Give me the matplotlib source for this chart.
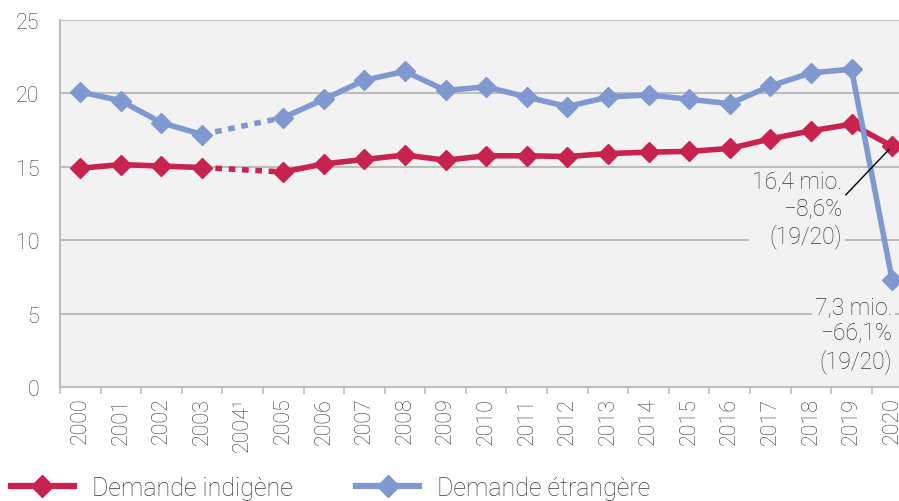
import numpy as np
import matplotlib
matplotlib.use("Agg")
import matplotlib.pyplot as plt
from matplotlib.lines import Line2D

# ── Data (millions of overnight stays) ──────────────────────────────
YEARS = ["2000", "2001", "2002", "2003", "2004¹", "2005", "2006", "2007",
         "2008", "2009", "2010", "2011", "2012", "2013", "2014", "2015",
         "2016", "2017", "2018", "2019", "2020"]
INDIGENE = [14.9, 15.15, 15.05, 14.95, np.nan, 14.65, 15.2, 15.5,
            15.8, 15.45, 15.75, 15.75, 15.7, 15.9, 16.0, 16.05,
            16.25, 16.9, 17.45, 17.9, 16.4]
ETRANGERE = [20.1, 19.5, 18.0, 17.2, np.nan, 18.35, 19.6, 20.9,
             21.5, 20.2, 20.45, 19.75, 19.1, 19.75, 19.9, 19.6,
             19.3, 20.5, 21.4, 21.65, 7.3]
GAP = (3, 5)  # 2004 break, bridged with a dotted line

RED = "#c8224e"
BLUE = "#7f99d0"
GRID = "#bdbdbd"
TXT = "#3a3a3a"

plt.rcParams["font.family"] = ["Roboto", "DejaVu Sans"]
plt.rcParams["font.weight"] = "light"

fig = plt.figure(figsize=(8.99, 5.02), dpi=100)
ax = fig.add_axes([60 / 899, 1 - 388 / 502, 1 - 60 / 899, (388 - 21) / 502])
ax.set_facecolor("#f2f2f2")

x = np.arange(len(YEARS))
for vals, col in [(INDIGENE, RED), (ETRANGERE, BLUE)]:
    v = np.array(vals)
    ax.plot(x, v, color=col, lw=4, marker="D", ms=10.5, zorder=3)
    a, b = GAP
    ax.plot([a, b], [v[a], v[b]], color=col, lw=4, ls=(0, (1.2, 1.2)), zorder=2)

ax.set_xlim(-0.5, 20.17)
ax.set_ylim(0, 25)
ax.set_yticks([0, 5, 10, 15, 20, 25])
ax.grid(axis="y", color=GRID, lw=1.5)
ax.set_axisbelow(True)

ax.set_xticks(x)
ax.set_xticklabels(YEARS, rotation=90, fontsize=15.5)
ax.set_xticks(np.arange(-0.5, 20.5, 1), minor=True)
ax.tick_params(axis="x", which="major", length=0, pad=7, colors=TXT)
ax.tick_params(axis="x", which="minor", length=5, color=GRID, width=1.2)
ax.tick_params(axis="y", length=0, labelsize=15.5, pad=15, colors=TXT)

for s in ["top", "right"]:
    ax.spines[s].set_visible(False)
for s in ["left", "bottom"]:
    ax.spines[s].set_color(GRID)
    ax.spines[s].set_linewidth(1.5)

box = dict(facecolor="#f2f2f2", edgecolor="none", pad=2)
ax.annotate("16,4 mio.\n−8,6%\n(19/20)", xy=(20, INDIGENE[20]),
            xytext=(18.77, 12.13), ha="right", va="center", fontsize=16.5,
            color=TXT, linespacing=1.2, bbox=box,
            arrowprops=dict(arrowstyle="-", color="black", lw=1,
                            shrinkA=0, shrinkB=3,
                            relpos=(1.04, 0.68)))
ax.text(20.0, 3.61, "7,3 mio.\n−66,1%\n(19/20)", ha="right", va="center",
        fontsize=16.5, color=TXT, linespacing=1.2, bbox=box, zorder=4)

handles = [Line2D([], [], color=RED, lw=4.5, marker="D", ms=11),
           Line2D([], [], color=BLUE, lw=4.5, marker="D", ms=11)]
fig.legend(handles, ["Demande indigène", "Demande étrangère"],
           loc="center left", bbox_to_anchor=(11 / 899, 1 - 489 / 502),
           ncol=2, frameon=False, borderpad=0, borderaxespad=0,
           prop={"family": ["Liberation Sans Narrow", "Roboto"], "size": 18},
           handlelength=2.5, handletextpad=0.72, columnspacing=2.56,
           labelcolor=TXT)

fig.savefig("out.png", dpi=100)
